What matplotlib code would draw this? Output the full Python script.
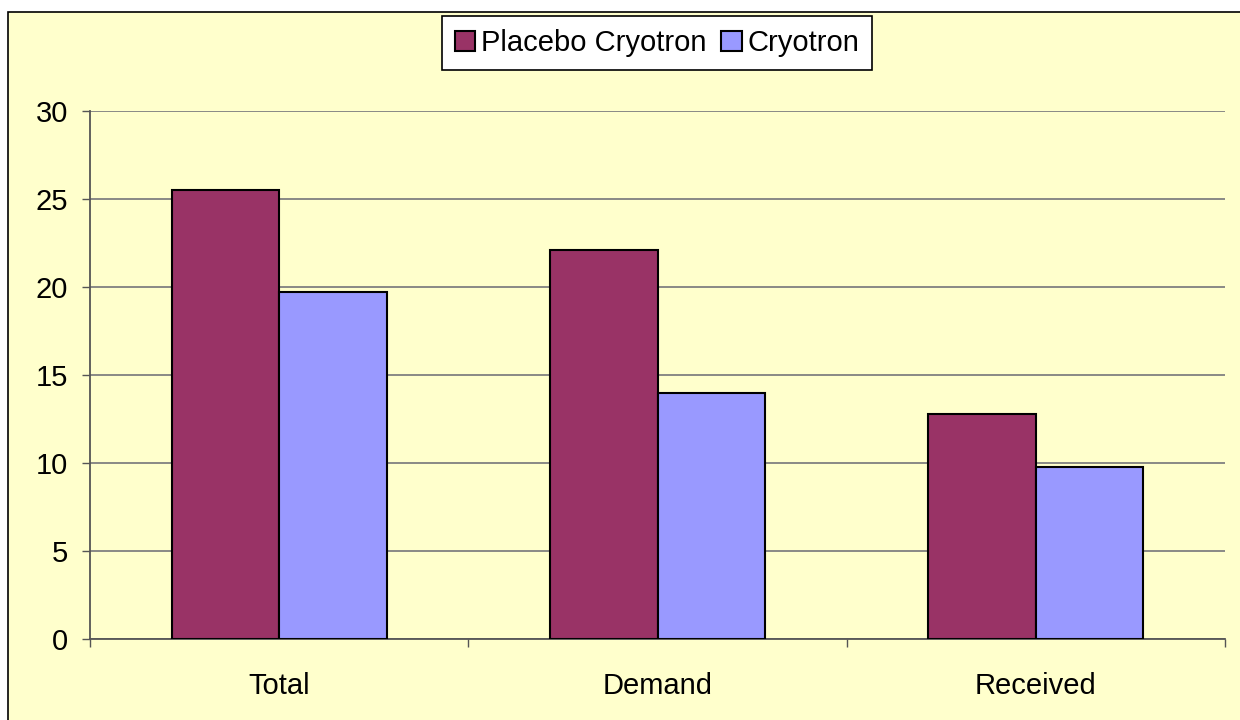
import numpy as np
import matplotlib
matplotlib.use('Agg')
import matplotlib.pyplot as plt
from matplotlib.patches import Rectangle

plt.rcParams['font.family'] = ['Liberation Sans', 'DejaVu Sans']

# data
categories = ['Total', 'Demand', 'Received']
placebo = [25.5, 22.1, 12.8]
cryotron = [19.7, 14.0, 9.8]
series_names = ['Placebo Cryotron', 'Cryotron']

bg = '#FFFFCC'
fig = plt.figure(figsize=(12.4, 7.2), dpi=100, facecolor='white')

# chart area panel with border on top/left
fig.add_artist(Rectangle((8 / 1240, -0.1), 1.2, 1 - 12 / 720 + 0.1,
                         transform=fig.transFigure, facecolor=bg,
                         edgecolor='black', linewidth=1.2, zorder=-10))

ax = fig.add_axes([90 / 1240, 1 - 639 / 720, 1135 / 1240, 528 / 720])
ax.set_facecolor('none')

x = np.arange(len(categories))
w = 0.284
b1 = ax.bar(x - w / 2, placebo, w, color='#993366', edgecolor='black',
            linewidth=1.5, label=series_names[0], zorder=3)
b2 = ax.bar(x + w / 2, cryotron, w, color='#9999FF', edgecolor='black',
            linewidth=1.5, label=series_names[1], zorder=3)

ax.set_xlim(-0.5, 2.5)
ax.set_ylim(0, 30)
ax.set_yticks(range(0, 31, 5))
ax.yaxis.grid(True, color='#808080', linewidth=1.3, zorder=0)
ax.set_axisbelow(True)

fs = 21
ax.set_xticks(x)
ax.set_xticklabels(categories)
ax.set_xticks([-0.5, 0.5, 1.5, 2.5], minor=True)
ax.tick_params(axis='x', which='major', length=0, pad=24, labelsize=fs)
ax.tick_params(axis='x', which='minor', length=6, width=1, color='#555555')
ax.tick_params(axis='y', length=6, width=1, color='#555555', pad=10, labelsize=fs)

for s in ['top', 'right']:
    ax.spines[s].set_visible(False)
for s in ['left', 'bottom']:
    ax.spines[s].set_color('#555555')
    ax.spines[s].set_linewidth(1.3)

leg = fig.legend(handles=[b1, b2], loc='upper center',
                 bbox_to_anchor=(657 / 1240, 1 - 16 / 720), ncol=2,
                 fontsize=fs, frameon=True, fancybox=False,
                 handlelength=0.7, handleheight=0.7, handletextpad=0.2,
                 columnspacing=0.5, borderpad=0.45, borderaxespad=0)
leg.get_frame().set_edgecolor('black')
leg.get_frame().set_linewidth(1.2)
leg.get_frame().set_facecolor('white')
leg.get_frame().set_alpha(1)

fig.savefig('out.png', dpi=100, facecolor=fig.get_facecolor())
